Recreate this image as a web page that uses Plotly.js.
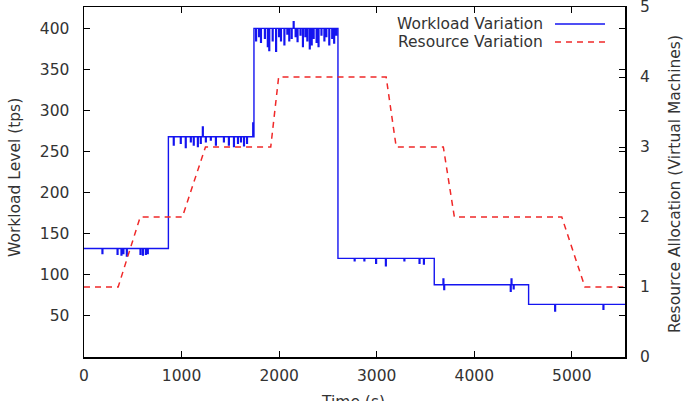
<!DOCTYPE html>
<html>
<head>
<meta charset="utf-8">
<script src="https://cdn.plot.ly/plotly-3.0.1.min.js"></script>
<style>html,body{margin:0;padding:0;background:#fff;}#chart{width:690px;height:401px;}</style>
</head>
<body>
<div id="chart"></div>
<script>
// Workload (tps), step series with short spikes
const workloadTime = [
  0, 185, 193, 340, 348, 380, 388, 400, 408, 435, 443, 575, 583, 600, 608, 630, 638, 650, 658,
  865, 916, 924, 988, 996, 1039, 1047, 1091, 1099, 1121, 1129, 1163, 1171, 1193, 1201, 1214, 1222,
  1245, 1253, 1296, 1304, 1348, 1356, 1430, 1438, 1481, 1489, 1533, 1541, 1574, 1582, 1605, 1613,
  1636, 1644, 1667, 1675, 1730, 1738,
  1742, 1760, 1768, 1790, 1798, 1810, 1818, 1850, 1858, 1880, 1888, 1895, 1903, 1930, 1938, 1965, 1973,
  1995, 2003, 2015, 2023, 2050, 2058, 2080, 2088, 2100, 2108, 2125, 2133, 2145, 2153, 2165, 2173,
  2185, 2193, 2215, 2223, 2240, 2248, 2265, 2273, 2285, 2293, 2310, 2318, 2330, 2338, 2350, 2358,
  2380, 2388, 2400, 2408, 2430, 2438, 2460, 2468, 2480, 2488, 2510, 2518, 2540, 2548, 2560, 2568, 2580, 2588,
  2603, 2770, 2778, 2870, 2878, 2990, 2998, 3090, 3098, 3280, 3288, 3435, 3443, 3480, 3488,
  3590, 3680, 3688, 3696, 4370, 4378, 4386, 4400, 4408,
  4557, 4825, 4833, 5320, 5328, 5545
];
const workloadValue = [
  132, 126, 132, 125, 132, 124, 132, 126, 132, 123, 132, 125, 132, 124, 132, 125, 132, 126, 132,
  268, 258, 268, 260, 268, 255, 268, 262, 268, 258, 268, 256, 268, 260, 268, 280, 268,
  262, 268, 264, 268, 258, 268, 262, 268, 258, 268, 256, 268, 260, 268, 262, 268,
  257, 268, 260, 268, 285, 268,
  400, 385, 400, 390, 400, 383, 400, 388, 400, 378, 400, 373, 400, 385, 400, 372, 400,
  390, 400, 385, 400, 380, 400, 393, 400, 385, 400, 388, 400, 408, 400, 390, 400,
  384, 400, 392, 400, 378, 400, 390, 400, 385, 400, 375, 400, 380, 400, 388, 400,
  383, 400, 378, 400, 392, 400, 385, 400, 390, 400, 380, 400, 388, 400, 382, 400, 392, 400,
  120, 117, 120, 117, 120, 114, 120, 111, 120, 117, 120, 114, 120, 113, 120,
  88, 95, 82, 88, 80, 95, 88, 83, 88,
  64, 56, 64, 58, 64, 64
];
// Resource allocation (VMs)
const resourceTime  = [0, 350, 576, 1008, 1245, 1914, 1995, 3097, 3200, 3683, 3796, 4897, 5134, 5545];
const resourceValue = [1, 1, 2, 2, 3, 3, 4, 4, 3, 3, 2, 2, 1, 1];

const seriesNames = ["Workload Variation", "Resource Variation"];
const axisTitles = ["Time (s)", "Workload Level (tps)", "Resource Allocation (Virtual Machines)"];
const xTicks = [0, 1000, 2000, 3000, 4000, 5000];
const yTicks = [50, 100, 150, 200, 250, 300, 350, 400];
const y2Ticks = [0, 1, 2, 3, 4, 5];

const blue = "rgb(20,20,240)";
const red = "rgb(240,40,40)";
const font = {family: "DejaVu Sans, sans-serif", size: 15.5, color: "#333"};

const traces = [
  {x: workloadTime, y: workloadValue, type: "scatter", mode: "lines", name: seriesNames[0],
   line: {color: blue, width: 1.4, shape: "hv"}, yaxis: "y"},
  {x: resourceTime, y: resourceValue, type: "scatter", mode: "lines", name: seriesNames[1],
   line: {color: red, width: 1.5, dash: "6px,5px"}, yaxis: "y2"}
];

const L = 84, R = 625, T = 7, B = 357;
const px = v => (v - L) / (R - L);
const py = v => (B - v) / (B - T);

const layout = {
  width: 690, height: 401,
  margin: {l: L, r: 690 - R, t: T, b: 401 - B},
  paper_bgcolor: "#fff", plot_bgcolor: "#fff",
  font: font,
  showlegend: false,
  xaxis: {
    range: [0, 5545], tickvals: xTicks, ticktext: xTicks.map(String),
    ticks: "inside", ticklen: 6, tickwidth: 1, tickcolor: "#000",
    showline: true, linecolor: "#000", linewidth: 1.5, mirror: "ticks",
    showgrid: false, zeroline: false, ticklabelstandoff: 4
  },
  yaxis: {
    range: [0, 426], tickvals: yTicks, ticktext: yTicks.map(String),
    ticks: "inside", ticklen: 6, tickwidth: 1, tickcolor: "#000",
    showline: true, linecolor: "#000", linewidth: 1.5, mirror: "ticks",
    showgrid: false, zeroline: false, ticklabelstandoff: 10
  },
  yaxis2: {
    range: [0, 5], tickvals: y2Ticks, ticktext: y2Ticks.map(String),
    overlaying: "y", side: "right", ticklabeloverflow: "allow",
    ticks: "inside", ticklen: 6, tickwidth: 1, tickcolor: "#000",
    showline: false, showgrid: false, zeroline: false, ticklabelstandoff: 14
  },
  annotations: [
    {xref: "paper", yref: "paper", x: px(545), y: py(24), xanchor: "right", yanchor: "middle",
     text: seriesNames[0], showarrow: false, font: font},
    {xref: "paper", yref: "paper", x: px(545), y: py(42), xanchor: "right", yanchor: "middle",
     text: seriesNames[1], showarrow: false, font: font},
    {xref: "paper", yref: "paper", x: px(353), y: py(391), xanchor: "center", yanchor: "top",
     text: axisTitles[0], showarrow: false, font: font},
    {xref: "paper", yref: "paper", x: px(15), y: py(178), xanchor: "center", yanchor: "middle",
     textangle: -90, text: axisTitles[1], showarrow: false, font: font},
    {xref: "paper", yref: "paper", x: px(675), y: py(184), xanchor: "center", yanchor: "middle",
     textangle: -90, text: axisTitles[2], showarrow: false, font: font}
  ],
  shapes: [
    {type: "line", xref: "paper", yref: "paper", x0: px(555), x1: px(605),
     y0: py(24), y1: py(24), line: {color: blue, width: 1.4}},
    {type: "line", xref: "paper", yref: "paper", x0: px(555), x1: px(605),
     y0: py(42), y1: py(42), line: {color: red, width: 1.5, dash: "6px,5px"}}
  ]
};

Plotly.newPlot("chart", traces, layout, {displayModeBar: false, staticPlot: true});
</script>
</body>
</html>
